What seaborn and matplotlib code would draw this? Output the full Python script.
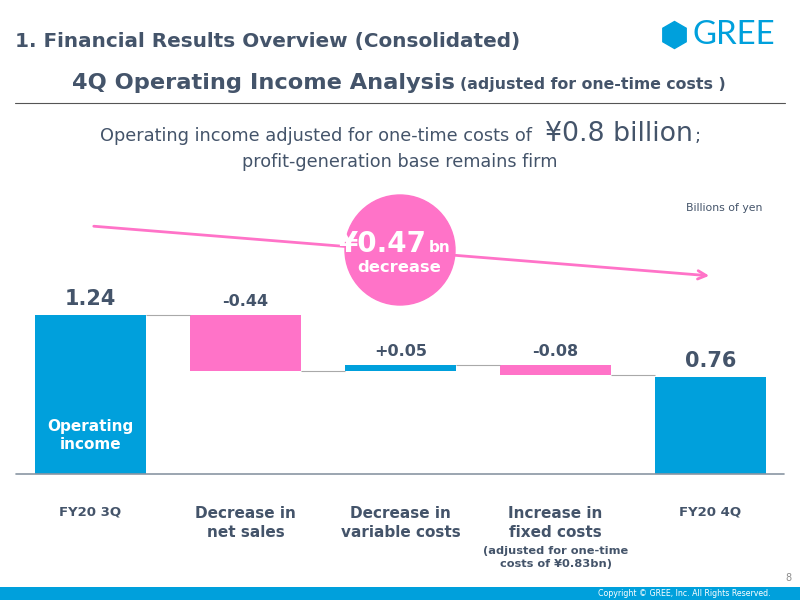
import numpy as np
import matplotlib
matplotlib.use("Agg")
import matplotlib.pyplot as plt
from matplotlib.patches import Circle, Rectangle, RegularPolygon
import seaborn as sns

# =============================================================================
# datos (miles de millones de yenes)
# =============================================================================
categorias = ["FY20 3Q", "Decrease in\nnet sales", "Decrease in\nvariable costs",
              "Increase in\nfixed costs", "FY20 4Q"]
valores = [1.24, -0.44, 0.05, -0.08, 0.76]
tipos = ["total", "delta", "delta", "delta", "total"]
etiquetas = ["1.24", "-0.44", "+0.05", "-0.08", "0.76"]
nota_fijos = "(adjusted for one-time\ncosts of ¥0.83bn)"

AZUL = "#00a0dc"
ROSA = "#ff73c8"
TEXTO = "#44546a"
GRIS = "#8a96a3"

# bases y alturas del waterfall
bases, alturas, niveles = [], [], []
acumulado = 0.0
for v, t in zip(valores, tipos):
    if t == "total":
        bases.append(0.0)
        alturas.append(v)
        acumulado = v
    else:
        nuevo = acumulado + v
        bases.append(min(acumulado, nuevo))
        alturas.append(abs(v))
        acumulado = nuevo
    niveles.append(acumulado)
colores = [AZUL if (t == "total" or v > 0) else ROSA for v, t in zip(valores, tipos)]

sns.set_theme(style="white")
plt.rcParams["font.family"] = ["DejaVu Sans"]

fig = plt.figure(figsize=(8, 6), dpi=100)

# ejes de barras: 128.2 px por unidad, base en y=474 px
px_unidad = 128.2
top_px, base_px = 186, 474
ax = fig.add_axes([13 / 800, (600 - base_px) / 600, 775 / 800, (base_px - top_px) / 600])
ancho = 0.716
sns.barplot(x=categorias, y=alturas, bottom=bases, color=AZUL, width=ancho,
            linewidth=0, saturation=1, ax=ax)
for p, c in zip(ax.patches, colores):
    p.set_facecolor(c)
ax.set_xlim(-0.5, 4.5)
ax.set_ylim(0, (base_px - top_px) / px_unidad)
ax.set_yticks([])
ax.set_ylabel("")
ax.set_xlabel("")
sns.despine(ax=ax, left=True, bottom=True)
ax.axhline(0, xmin=3 / 775, xmax=771 / 775, color=GRIS, lw=1.2, clip_on=False)

# lineas de conexion
for i in range(len(valores) - 1):
    ax.hlines(niveles[i], i + ancho / 2, i + 1 - ancho / 2, color="#a9a9a9", lw=0.8)

# etiquetas de valor
for i, (b, h, lab, t) in enumerate(zip(bases, alturas, etiquetas, tipos)):
    tam = 15 if t == "total" else 11.5
    ax.annotate(lab, (i, b + h), xytext=(0, 4), textcoords="offset points",
                ha="center", va="bottom", fontsize=tam, fontweight="bold", color=TEXTO)

ax.text(0, 0.30, "Operating\nincome", ha="center", va="center", fontsize=11,
        fontweight="bold", color="white", linespacing=1.2)

# etiquetas del eje x
ax.tick_params(axis="x", length=0, pad=23)
for i, lbl in enumerate(ax.get_xticklabels()):
    lbl.set_fontweight("bold")
    lbl.set_color(TEXTO)
    lbl.set_verticalalignment("top")
    lbl.set_linespacing(1.3)
    lbl.set_fontsize(9.5 if tipos[i] == "total" else 11)
ax.annotate(nota_fijos, (3, 0), xycoords=("data", "axes fraction"), xytext=(0, -52),
            textcoords="offset points", ha="center", va="top", fontsize=8.2,
            fontweight="bold", color=TEXTO, linespacing=1.4)

# capa en pixeles para titulos y decoracion
ov = fig.add_axes([0, 0, 1, 1], zorder=5)
ov.set_xlim(0, 800)
ov.set_ylim(600, 0)
ov.axis("off")
ov.patch.set_alpha(0)

ov.text(15, 42, "1. Financial Results Overview (Consolidated)", ha="left", va="center",
        fontsize=14.4, fontweight="bold", color=TEXTO)
ov.text(72, 89, "4Q Operating Income Analysis", ha="left", va="baseline",
        fontsize=16.2, fontweight="bold", color=TEXTO)
ov.text(460, 89, "(adjusted for one-time costs )", ha="left", va="baseline",
        fontsize=11.3, fontweight="bold", color=TEXTO)
ov.plot([15, 785], [103, 103], color="#555555", lw=0.8)

# logo
ov.add_patch(RegularPolygon((674.5, 35), 6, radius=13.5, orientation=0, color=AZUL))
ov.text(692, 35, "GREE", ha="left", va="center", fontsize=23.8, color=AZUL,
        family=["Lato", "DejaVu Sans"])

# subtitulo
ov.text(538, 141, "Operating income adjusted for one-time costs of ", ha="right",
        va="baseline", fontsize=12.8, color=TEXTO)
ov.text(545, 141, "¥0.8 billion", ha="left", va="baseline", fontsize=19.3, color=TEXTO)
ov.text(695, 141, ";", ha="left", va="baseline", fontsize=12.8, color=TEXTO)
ov.text(400, 167, "profit-generation base remains firm", ha="center", va="baseline",
        fontsize=12.7, color=TEXTO)
ov.text(686, 208, "Billions of yen", ha="left", va="center", fontsize=7.8, color=TEXTO)

# flecha y circulo
ov.annotate("", xy=(712, 276), xytext=(91, 226),
            arrowprops=dict(arrowstyle="->", color=ROSA, lw=2, mutation_scale=15))
ov.add_patch(Circle((400, 250), 55, color=ROSA, zorder=3))
ov.text(427, 252, "¥0.47", ha="right", va="baseline", fontsize=20, fontweight="bold",
        color="white", zorder=4)
ov.text(429, 252, "bn", ha="left", va="baseline", fontsize=11, fontweight="bold",
        color="white", zorder=4)
ov.text(399, 268, "decrease", ha="center", va="center", fontsize=11.8, fontweight="bold",
        color="white", zorder=4)

# pie de pagina
ov.text(791, 578, "8", ha="right", va="center", fontsize=7, color="#8c8c8c")
ov.add_patch(Rectangle((0, 587), 800, 13, color=AZUL, lw=0))
ov.text(771, 593.5, "Copyright © GREE, Inc. All Rights Reserved.", ha="right",
        va="center", fontsize=5.7, color="white")

fig.savefig("out.png", dpi=100)
